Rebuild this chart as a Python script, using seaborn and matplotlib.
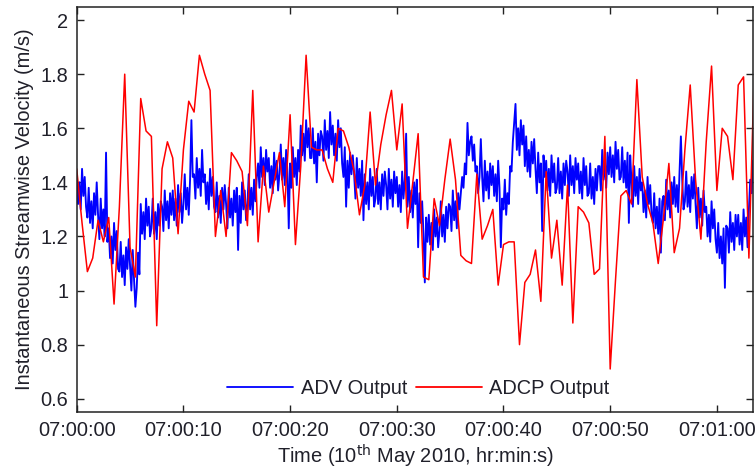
import numpy as np
import pandas as pd
import matplotlib
matplotlib.use("Agg")
import matplotlib.pyplot as plt
from matplotlib.ticker import FixedLocator
import seaborn as sns

# ADV: 8 samples per second, one row per second (m/s)
ADV_RATE = 8
adv_velocity = [
    1.43, 1.32, 1.40, 1.30, 1.45, 1.35, 1.42, 1.31,
    1.27, 1.38, 1.25, 1.33, 1.23, 1.36, 1.28, 1.40,
    1.28, 1.19, 1.34, 1.23, 1.30, 1.20, 1.51, 1.18,
    1.23, 1.12, 1.20, 1.10, 1.25, 1.15, 1.22, 1.08,
    1.07, 1.18, 1.05, 1.13, 1.02, 1.16, 1.08, 1.19,
    1.09, 1.00, 1.15, 1.04, 0.94, 1.01, 1.14, 1.06,
    1.32, 1.21, 1.29, 1.19, 1.34, 1.24, 1.31, 1.20,
    1.23, 1.34, 1.21, 1.29, 1.19, 1.32, 1.24, 1.33,
    1.31, 1.22, 1.37, 1.26, 1.33, 1.23, 1.36, 1.28,
    1.37, 1.26, 1.34, 1.24, 1.39, 1.29, 1.36, 1.25,
    1.32, 1.43, 1.30, 1.38, 1.28, 1.41, 1.63, 1.42,
    1.43, 1.34, 1.49, 1.38, 1.45, 1.35, 1.52, 1.40,
    1.43, 1.32, 1.40, 1.30, 1.45, 1.35, 1.42, 1.31,
    1.29, 1.40, 1.27, 1.35, 1.25, 1.38, 1.30, 1.39,
    1.32, 1.23, 1.38, 1.27, 1.34, 1.24, 1.37, 1.29,
    1.38, 1.15, 1.35, 1.25, 1.40, 1.30, 1.37, 1.26,
    1.32, 1.43, 1.30, 1.38, 1.28, 1.41, 1.33, 1.42,
    1.47, 1.38, 1.53, 1.42, 1.49, 1.39, 1.52, 1.44,
    1.49, 1.38, 1.46, 1.36, 1.51, 1.41, 1.48, 1.37,
    1.43, 1.54, 1.41, 1.49, 1.39, 1.52, 1.44, 1.23,
    1.47, 1.38, 1.53, 1.42, 1.49, 1.39, 1.52, 1.44,
    1.61, 1.50, 1.58, 1.48, 1.63, 1.53, 1.60, 1.49,
    1.49, 1.60, 1.47, 1.55, 1.40, 1.58, 1.50, 1.59,
    1.57, 1.48, 1.63, 1.52, 1.59, 1.49, 1.66, 1.54,
    1.61, 1.50, 1.58, 1.48, 1.63, 1.53, 1.60, 1.47,
    1.42, 1.53, 1.31, 1.48, 1.38, 1.51, 1.43, 1.50,
    1.43, 1.34, 1.49, 1.38, 1.45, 1.35, 1.48, 1.26,
    1.43, 1.32, 1.40, 1.30, 1.45, 1.35, 1.42, 1.31,
    1.34, 1.45, 1.32, 1.40, 1.30, 1.43, 1.35, 1.44,
    1.39, 1.30, 1.45, 1.34, 1.41, 1.31, 1.44, 1.36,
    1.42, 1.31, 1.39, 1.29, 1.44, 1.34, 1.41, 1.58,
    1.31, 1.42, 1.29, 1.37, 1.27, 1.40, 1.32, 1.41,
    1.16, 1.36, 1.25, 1.33, 1.21, 1.03, 1.27, 1.18,
    1.28, 1.17, 1.25, 1.15, 1.30, 1.20, 1.27, 1.16,
    1.22, 1.33, 1.20, 1.28, 1.18, 1.31, 1.23, 1.32,
    1.31, 1.22, 1.37, 1.26, 1.33, 1.23, 1.36, 1.30,
    1.36, 1.42, 1.38, 1.47, 1.43, 1.62, 1.50, 1.55,
    1.57, 1.48, 1.54, 1.44, 1.46, 1.36, 1.42, 1.56,
    1.42, 1.33, 1.48, 1.37, 1.44, 1.34, 1.47, 1.39,
    1.46, 1.35, 1.43, 1.33, 1.48, 1.38, 1.16, 1.34,
    1.30, 1.41, 1.28, 1.36, 1.32, 1.46, 1.44, 1.55,
    1.62, 1.69, 1.52, 1.60, 1.50, 1.63, 1.54, 1.61,
    1.46, 1.57, 1.44, 1.52, 1.42, 1.55, 1.47, 1.56,
    1.45, 1.36, 1.51, 1.40, 1.47, 1.22, 1.50, 1.42,
    1.48, 1.37, 1.45, 1.35, 1.50, 1.40, 1.47, 1.36,
    1.38, 1.49, 1.36, 1.44, 1.34, 1.47, 1.39, 1.48,
    1.44, 1.35, 1.50, 1.39, 1.46, 1.36, 1.49, 1.41,
    1.47, 1.36, 1.44, 1.34, 1.49, 1.39, 1.46, 1.35,
    1.36, 1.47, 1.34, 1.42, 1.32, 1.45, 1.37, 1.46,
    1.46, 1.37, 1.52, 1.41, 1.48, 1.38, 1.51, 1.43,
    1.53, 1.42, 1.50, 1.40, 1.55, 1.45, 1.52, 1.41,
    1.42, 1.53, 1.40, 1.48, 1.38, 1.51, 1.25, 1.50,
    1.40, 1.31, 1.46, 1.35, 1.42, 1.32, 1.45, 1.37,
    1.40, 1.29, 1.37, 1.27, 1.42, 1.32, 1.39, 1.28,
    1.25, 1.36, 1.23, 1.31, 1.21, 1.34, 1.14, 1.33,
    1.35, 1.26, 1.41, 1.30, 1.37, 1.27, 1.40, 1.32,
    1.42, 1.31, 1.39, 1.29, 1.44, 1.57, 1.41, 1.30,
    1.33, 1.44, 1.31, 1.39, 1.29, 1.42, 1.34, 1.43,
    1.32, 1.23, 1.38, 1.27, 1.34, 1.24, 1.37, 1.29,
    1.31, 1.20, 1.28, 1.18, 1.33, 1.23, 1.30, 1.19,
    1.14, 1.25, 1.12, 1.20, 1.10, 1.23, 1.01, 1.24,
    1.23, 1.14, 1.29, 1.18, 1.25, 1.15, 1.28, 1.20,
    1.28, 1.17, 1.25, 1.15, 1.30, 1.20, 1.27, 1.16,
    1.30, 1.41, 1.36, 1.48, 1.40, 1.52, 1.44, 1.55,
]

# ADCP: 2 samples per second (m/s)
ADCP_RATE = 2
adcp_velocity = [
    1.45, 1.25, 1.07, 1.12, 1.26, 1.18, 1.27, 0.95, 1.31, 1.80,
    1.16, 1.05, 1.71, 1.59, 1.57, 0.87, 1.45, 1.55, 1.49, 1.21,
    1.52, 1.70, 1.66, 1.87, 1.80, 1.74, 1.20, 1.37, 1.20, 1.51,
    1.48, 1.44, 1.24, 1.74, 1.18, 1.46, 1.29, 1.40, 1.51, 1.31,
    1.65, 1.17, 1.46, 1.87, 1.53, 1.52, 1.52, 1.45, 1.40, 1.60,
    1.59, 1.53, 1.44, 1.28, 1.39, 1.66, 1.39, 1.54, 1.65, 1.74,
    1.52, 1.69, 1.23, 1.40, 1.58, 1.05, 1.04, 1.34, 1.24, 1.41,
    1.56, 1.41, 1.13, 1.11, 1.10, 1.43, 1.19, 1.24, 1.30, 1.02,
    1.17, 1.18, 1.18, 0.80, 1.03, 1.06, 1.15, 0.96, 1.44, 1.12,
    1.26, 1.02, 1.39, 0.88, 1.31, 1.29, 1.25, 1.06, 1.08, 1.57,
    0.71, 1.04, 1.35, 1.37, 1.32, 1.78, 1.42, 1.32, 1.25, 1.10,
    1.27, 1.47, 1.14, 1.23, 1.52, 1.76, 1.41, 1.19, 1.55, 1.83,
    1.37, 1.60, 1.57, 1.41, 1.76, 1.79, 1.12, 1.81,
]

# Tick positions (seconds after 07:00:00) and their clock labels
tick_seconds = [0, 10, 20, 30, 40, 50, 60]
tick_labels = ["07:00:00", "07:00:10", "07:00:20", "07:00:30",
               "07:00:40", "07:00:50", "07:01:00"]
y_ticks = [0.6, 0.8, 1.0, 1.2, 1.4, 1.6, 1.8, 2.0]
y_tick_labels = ["0.6", "0.8", "1", "1.2", "1.4", "1.6", "1.8", "2"]

adv = pd.DataFrame({"t": np.arange(len(adv_velocity)) / ADV_RATE,
                    "v": adv_velocity})
adcp = pd.DataFrame({"t": np.arange(len(adcp_velocity)) / ADCP_RATE,
                     "v": adcp_velocity})

sns.set_theme(style="white")
text_color = "#20202a"
plt.rcParams.update({
    "font.family": ["Liberation Sans", "DejaVu Sans"],
    "text.color": text_color,
    "axes.labelcolor": text_color,
    "xtick.color": "#222222",
    "ytick.color": "#222222",
    "axes.edgecolor": "#222222",
})

FS = 14.4

fig = plt.figure(figsize=(7.55, 4.69), dpi=100)
ax = fig.add_axes([0.1016, 0.121, 0.8964, 0.865])

sns.lineplot(data=adv, x="t", y="v", ax=ax, color="#0000ff", lw=1.35,
             estimator=None, sort=False, label="ADV Output")
sns.lineplot(data=adcp, x="t", y="v", ax=ax, color="#ff0000", lw=1.1,
             estimator=None, sort=False, label="ADCP Output")

ax.set_xlim(0, 63.43)
ax.set_ylim(0.55, 2.05)
ax.xaxis.set_major_locator(FixedLocator(tick_seconds))
ax.set_xticklabels(tick_labels)
ax.yaxis.set_major_locator(FixedLocator(y_ticks))
ax.set_yticklabels(y_tick_labels)

ax.tick_params(direction="in", length=5, width=1.0, labelsize=FS,
               labelcolor=text_color,
               top=True, right=True, bottom=True, left=True, pad=6)
for side in ax.spines.values():
    side.set_linewidth(1.1)
    side.set_visible(True)

ax.set_xlabel(r"Time (10$^{\rm th}$ May 2010, hr:min:s)", fontsize=FS, labelpad=2)
ax.set_ylabel("Instantaneous Streamwise Velocity (m/s)", fontsize=FS, labelpad=5)

leg = ax.legend(loc="center", bbox_to_anchor=(0.505, 0.058), ncol=2,
                frameon=False, fontsize=FS, handlelength=3.3,
                handletextpad=0.36, columnspacing=0.46, borderpad=0)
for line in leg.get_lines():
    line.set_linewidth(1.3)

fig.savefig("out.png", dpi=100)
